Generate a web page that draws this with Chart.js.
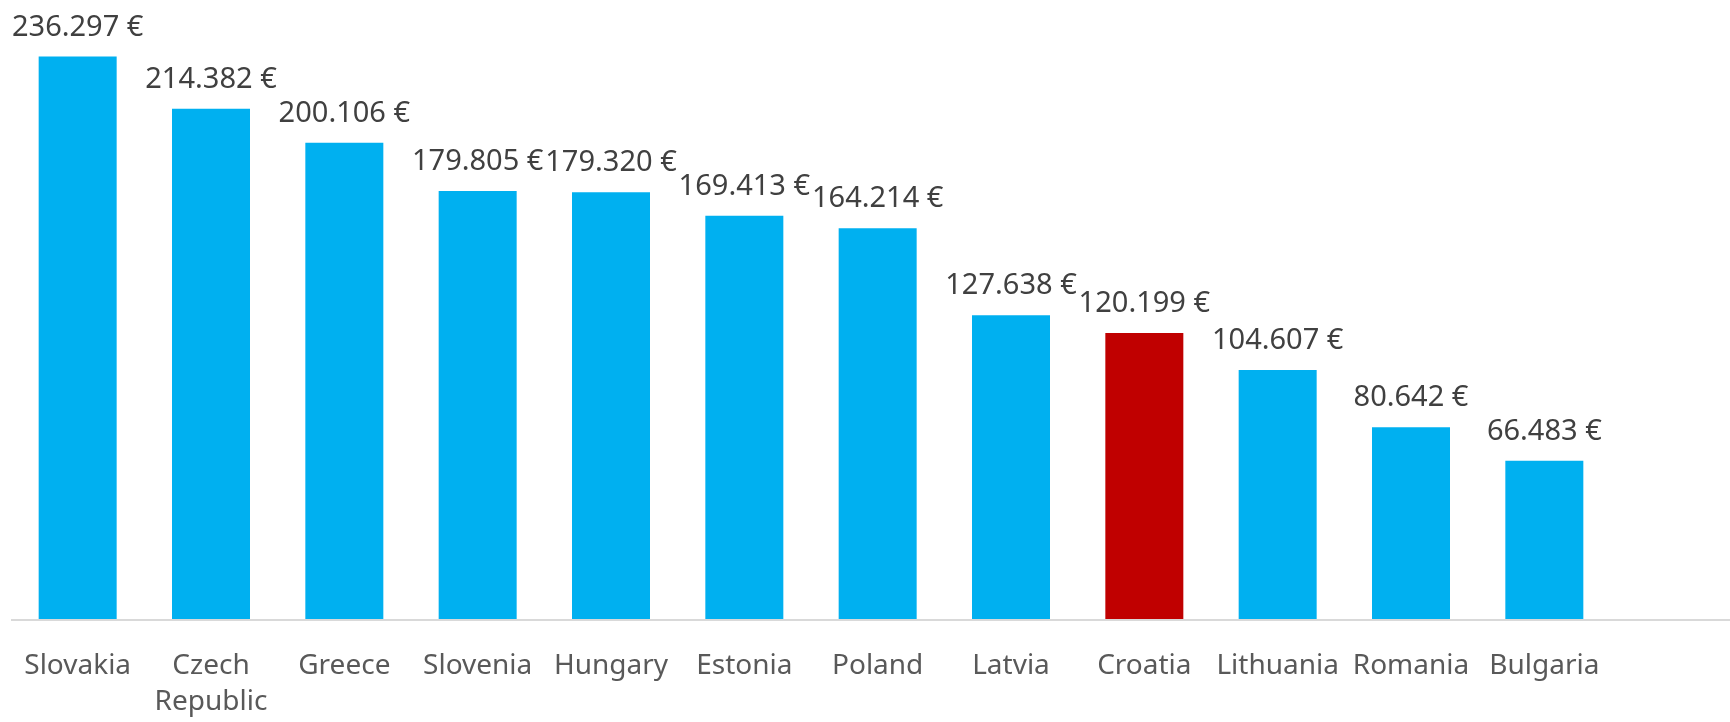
<!DOCTYPE html>
<html>
<head>
<meta charset="utf-8">
<title>Chart</title>
<script src="https://cdn.jsdelivr.net/npm/chart.js@4"></script>
<style>
  html, body { margin: 0; padding: 0; background: #fff; }
  #wrap { width: 1730px; height: 722px; position: relative; }
</style>
</head>
<body>
<div id="wrap"><canvas id="myChart"></canvas></div>
<script>
const countries = ["Slovakia", ["Czech", "Republic"], "Greece", "Slovenia", "Hungary", "Estonia", "Poland", "Latvia", "Croatia", "Lithuania", "Romania", "Bulgaria"];
const values = [236297, 214382, 200106, 179805, 179320, 169413, 164214, 127638, 120199, 104607, 80642, 66483];
const highlight = "Croatia";

const blue = "#00B0F0";
const red = "#C00000";

const formatEuro = (v) =>
  String(Math.round(v)).replace(/\B(?=(\d{3})+(?!\d))/g, ".") + " €";

// value labels above each bar
const valueLabels = {
  id: "valueLabels",
  afterDatasetsDraw(chart) {
    const ctx = chart.ctx;
    const meta = chart.getDatasetMeta(0);
    ctx.save();
    ctx.font = "29px 'Noto Sans'";
    ctx.fillStyle = "#404040";
    ctx.textAlign = "center";
    ctx.textBaseline = "alphabetic";
    meta.data.forEach((bar, i) => {
      ctx.fillText(formatEuro(values[i]), bar.x, bar.y - 21);
    });
    ctx.restore();
  },
};

// baseline runs past the last bar to the right edge
const baseLine = {
  id: "baseLine",
  afterDatasetsDraw(chart) {
    const ctx = chart.ctx;
    const y = chart.scales.y.getPixelForValue(0);
    ctx.save();
    ctx.strokeStyle = "#D9D9D9";
    ctx.lineWidth = 2;
    ctx.beginPath();
    ctx.moveTo(chart.chartArea.left, y + 1);
    ctx.lineTo(chart.width, y + 1);
    ctx.stroke();
    ctx.restore();
  },
};

const myChartUi = document.querySelector("#myChart");

const chart = new Chart(myChartUi, {
  type: "bar",
  data: {
    labels: countries,
    datasets: [
      {
        data: values,
        backgroundColor: countries.map((c) => (c === highlight ? red : blue)),
        categoryPercentage: 1,
        barPercentage: 0.585,
      },
    ],
  },
  options: {
    responsive: true,
    maintainAspectRatio: false,
    animation: false,
    layout: {
      padding: { left: 11, right: 119, top: 24, bottom: -27 },
    },
    plugins: {
      legend: { display: false },
      tooltip: { enabled: false },
    },
    scales: {
      x: {
        grid: { display: false, drawTicks: false },
        border: { display: false },
        afterFit(scale) {
          // labels fit inside their slots, no extra side padding
          scale.paddingLeft = 0;
          scale.paddingRight = 0;
        },
        ticks: {
          color: "#595959",
          font: { family: "'Noto Sans'", size: 28, lineHeight: 1.32 },
          padding: 28,
          maxRotation: 0,
          autoSkip: false,
        },
      },
      y: {
        display: false,
        min: 0,
        max: 250000,
      },
    },
  },
  plugins: [baseLine, valueLabels],
});
</script>
</body>
</html>
